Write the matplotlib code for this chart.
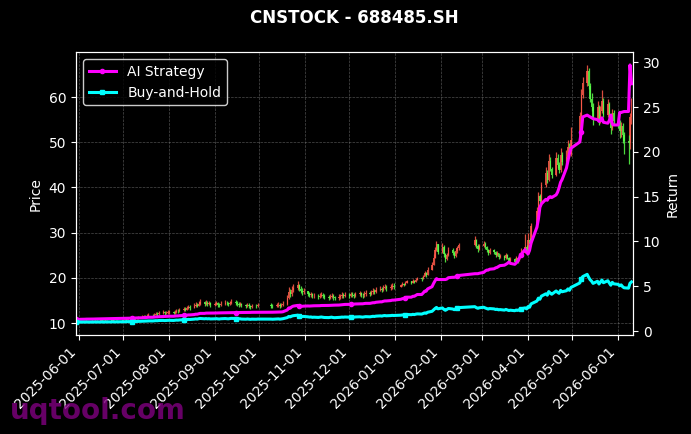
import pandas as pd
import numpy as np
import matplotlib
matplotlib.use('Agg')
import matplotlib.pyplot as plt
import matplotlib.dates as mdates

# trading calendar (SSE holidays removed)
holidays = ['2025-06-02', '2025-10-01', '2025-10-02', '2025-10-03', '2025-10-06',
            '2025-10-07', '2025-10-08', '2026-01-01', '2026-01-02', '2026-02-16',
            '2026-02-17', '2026-02-18', '2026-02-19', '2026-02-20', '2026-02-23',
            '2026-04-06', '2026-05-01', '2026-05-04', '2026-05-05']
dates = pd.bdate_range('2025-05-30', '2026-06-10')
dates = dates[~dates.isin(pd.to_datetime(holidays))]

first_open = 10.35

# closes by month
c_may = [10.40]
c_jun = [10.35, 10.28, 10.40, 10.45, 10.38, 10.50, 10.42, 10.55, 10.48, 10.60, 10.52, 10.45, 10.58, 10.62, 10.55, 10.70, 10.65, 10.60, 10.72, 10.68]
c_jul = [10.75, 10.82, 10.78, 10.90, 10.95, 11.05, 10.98, 11.10, 11.20, 11.35, 11.50, 11.42, 11.60, 11.75, 11.68, 11.90, 12.05, 11.95, 12.20, 12.35, 12.15, 12.30, 12.40]
c_aug = [12.45, 12.30, 12.55, 12.70, 12.60, 12.85, 13.10, 12.95, 13.30, 13.55, 13.40, 13.80, 14.10, 13.85, 14.30, 14.60, 14.20, 14.45, 14.15, 14.35, 14.05]
c_sep = [14.20, 14.40, 14.10, 13.95, 14.25, 14.50, 14.35, 14.15, 14.40, 14.70, 14.55, 14.30, 14.10, 14.25, 13.90, 13.75, 14.00, 13.85, 13.60, 13.80, 13.70, 13.90]
c_oct = [13.85, 13.70, 13.95, 14.10, 13.80, 14.00, 14.30, 15.60, 16.90, 16.40, 17.30, 17.80, 18.40, 17.60, 17.20, 16.80, 17.00]
c_nov = [16.50, 16.20, 16.35, 15.90, 16.10, 15.80, 16.05, 16.30, 16.00, 15.75, 15.60, 15.85, 16.10, 15.70, 15.50, 15.80, 15.95, 16.20, 16.05, 16.30]
c_dec = [16.10, 16.40, 16.25, 16.00, 16.35, 16.55, 16.30, 16.15, 16.45, 16.70, 16.50, 16.80, 17.10, 16.90, 17.30, 17.60, 17.35, 17.80, 18.00, 17.70, 17.95, 18.20, 18.05]
c_jan = [18.40, 18.70, 18.50, 18.90, 19.20, 18.95, 19.40, 19.10, 19.60, 19.90, 19.70, 20.30, 21.00, 20.60, 21.80, 22.90, 24.50, 26.10, 27.40, 25.80]
c_feb = [26.80, 25.20, 24.10, 25.00, 26.20, 25.60, 24.80, 25.90, 26.50, 27.20, 28.30, 27.10, 26.40, 27.00]
c_mar = [27.60, 26.80, 26.20, 25.50, 26.10, 25.70, 25.00, 25.40, 24.60, 24.90, 24.30, 25.10, 24.50, 23.80, 24.20, 23.60, 24.40, 23.90, 24.80, 25.60, 26.90, 25.70]
c_apr = [28.40, 27.60, 31.50, 34.80, 38.20, 36.90, 40.50, 43.20, 41.60, 45.80, 44.10, 42.70, 46.50, 44.90, 43.80, 47.20, 45.60, 46.80, 48.90, 47.30, 50.60]
c_may2 = [55.80, 60.50, 63.20, 65.80, 62.40, 59.60, 57.90, 55.30, 57.80, 54.60, 56.90, 59.20, 56.10, 58.40, 55.70, 53.20, 56.50, 54.80]
c_jun2 = [54.20, 52.50, 53.60, 51.50, 50.20, 49.80, 55.50, 57.00]

# highs by month
h_may = [10.55]
h_jun = [10.50, 10.45, 10.52, 10.58, 10.50, 10.62, 10.56, 10.66, 10.60, 10.72, 10.65, 10.58, 10.70, 10.75, 10.68, 10.82, 10.78, 10.72, 10.85, 10.80]
h_jul = [11.00, 11.10, 11.05, 11.15, 11.25, 11.35, 11.28, 11.40, 11.55, 11.70, 11.90, 11.80, 11.95, 12.15, 12.05, 12.30, 12.50, 12.40, 12.65, 12.85, 12.60, 12.75, 12.90]
h_aug = [12.90, 12.75, 13.00, 13.15, 13.05, 13.30, 13.60, 13.45, 13.80, 14.10, 13.95, 14.35, 14.70, 14.45, 14.90, 15.30, 14.90, 15.05, 14.80, 14.95, 14.70]
h_sep = [14.70, 14.95, 14.65, 14.45, 14.80, 15.10, 14.90, 14.65, 14.95, 15.30, 15.10, 14.85, 14.60, 14.75, 14.40, 14.25, 14.50, 14.35, 14.10, 14.30, 14.20, 14.40]
h_oct = [14.40, 14.25, 14.45, 14.65, 14.35, 14.55, 14.90, 16.20, 17.90, 17.50, 18.20, 18.70, 19.20, 18.60, 18.10, 17.70, 17.80]
h_nov = [17.20, 16.95, 16.90, 16.65, 16.65, 16.40, 16.60, 16.90, 16.65, 16.35, 16.20, 16.40, 16.70, 16.40, 16.10, 16.35, 16.50, 16.80, 16.65, 16.90]
h_dec = [16.70, 16.95, 16.85, 16.60, 16.90, 17.15, 16.90, 16.70, 17.00, 17.30, 17.10, 17.40, 17.75, 17.55, 17.95, 18.30, 18.05, 18.50, 18.75, 18.45, 18.65, 18.90, 18.80]
h_jan = [18.75, 19.05, 18.85, 19.25, 19.55, 19.35, 19.75, 19.50, 19.95, 20.30, 20.10, 20.70, 21.50, 21.20, 22.30, 23.60, 25.30, 26.90, 28.20, 27.60]
h_feb = [27.80, 27.20, 25.50, 25.60, 26.80, 26.60, 25.90, 26.40, 27.10, 27.70, 29.20, 28.70, 27.50, 27.60]
h_mar = [28.20, 27.90, 27.00, 26.40, 26.60, 26.30, 25.90, 25.90, 25.50, 25.30, 25.00, 25.60, 25.30, 24.70, 24.70, 24.30, 24.90, 24.60, 25.40, 26.70, 29.80, 27.30]
h_apr = [29.90, 28.90, 32.20, 35.60, 39.00, 38.60, 41.30, 44.60, 43.80, 47.50, 46.80, 44.60, 47.90, 47.30, 45.60, 48.80, 47.90, 48.20, 50.60, 49.90, 53.40]
h_may2 = [56.60, 61.80, 64.40, 67.10, 66.40, 63.00, 60.80, 58.70, 59.20, 58.30, 58.10, 61.60, 59.80, 59.60, 58.80, 56.40, 57.40, 57.20]
h_jun2 = [55.60, 54.90, 54.50, 54.20, 52.20, 51.60, 56.40, 59.80]

# lows by month
l_may = [10.25]
l_jun = [10.25, 10.20, 10.26, 10.33, 10.28, 10.36, 10.32, 10.40, 10.36, 10.45, 10.40, 10.34, 10.42, 10.50, 10.44, 10.55, 10.52, 10.48, 10.58, 10.55]
l_jul = [10.50, 10.60, 10.55, 10.65, 10.72, 10.80, 10.75, 10.85, 10.95, 11.05, 11.20, 11.15, 11.30, 11.45, 11.40, 11.55, 11.75, 11.65, 11.85, 12.00, 11.85, 11.95, 12.05]
l_aug = [12.10, 11.95, 12.10, 12.30, 12.25, 12.40, 12.65, 12.60, 12.80, 13.10, 13.00, 13.30, 13.60, 13.45, 13.75, 14.10, 13.80, 13.95, 13.75, 13.90, 13.60]
l_sep = [13.70, 13.90, 13.65, 13.50, 13.75, 14.00, 13.90, 13.70, 13.90, 14.20, 14.10, 13.85, 13.65, 13.80, 13.45, 13.30, 13.55, 13.40, 13.15, 13.35, 13.25, 13.45]
l_oct = [13.40, 13.25, 13.45, 13.60, 13.35, 13.55, 13.75, 14.10, 15.30, 15.80, 16.10, 16.90, 17.40, 17.10, 16.70, 16.30, 16.40]
l_nov = [16.10, 15.80, 15.85, 15.45, 15.55, 15.30, 15.45, 15.70, 15.50, 15.25, 15.10, 15.25, 15.50, 15.20, 15.00, 15.20, 15.40, 15.65, 15.55, 15.75]
l_dec = [15.60, 15.75, 15.70, 15.50, 15.70, 15.95, 15.80, 15.65, 15.85, 16.10, 16.00, 16.20, 16.50, 16.40, 16.65, 17.00, 16.85, 17.10, 17.45, 17.20, 17.35, 17.60, 17.55]
l_jan = [18.00, 18.30, 18.20, 18.45, 18.80, 18.65, 18.95, 18.80, 19.15, 19.50, 19.35, 19.80, 20.40, 20.20, 20.70, 21.70, 22.80, 24.40, 25.90, 25.30]
l_feb = [25.40, 24.70, 23.50, 23.90, 24.80, 25.10, 24.30, 24.60, 25.60, 26.20, 27.00, 26.60, 25.80, 26.10]
l_mar = [26.90, 26.40, 25.80, 25.10, 25.30, 25.30, 24.60, 24.80, 24.20, 24.30, 23.90, 24.20, 24.10, 23.40, 23.60, 23.20, 23.50, 23.40, 23.70, 24.60, 25.40, 25.10]
l_apr = [25.40, 27.10, 27.40, 31.00, 34.20, 36.20, 36.60, 40.10, 41.00, 41.40, 43.60, 42.10, 42.50, 44.30, 43.10, 43.50, 45.00, 45.20, 46.50, 46.70, 47.00]
l_may2 = [50.20, 55.10, 59.80, 62.50, 61.70, 58.90, 57.00, 53.80, 54.90, 53.90, 54.20, 56.40, 55.50, 55.60, 55.00, 51.90, 52.80, 53.90]
l_jun2 = [53.20, 51.00, 51.20, 49.80, 47.30, 45.20, 48.50, 54.00]

# AI strategy cumulative return by month
s_may = [1.30]
s_jun = [1.31, 1.31, 1.32, 1.33, 1.33, 1.34, 1.34, 1.35, 1.35, 1.36, 1.36, 1.36, 1.37, 1.38, 1.38, 1.39, 1.39, 1.39, 1.40, 1.40]
s_jul = [1.41, 1.42, 1.42, 1.43, 1.44, 1.45, 1.45, 1.46, 1.47, 1.48, 1.50, 1.50, 1.52, 1.54, 1.54, 1.56, 1.58, 1.58, 1.60, 1.62, 1.62, 1.63, 1.64]
s_aug = [1.65, 1.65, 1.67, 1.69, 1.69, 1.71, 1.74, 1.74, 1.77, 1.80, 1.80, 1.84, 1.88, 1.88, 1.93, 1.97, 1.97, 2.00, 2.00, 2.01, 2.01]
s_sep = [2.01, 2.02, 2.02, 2.02, 2.03, 2.04, 2.04, 2.04, 2.05, 2.06, 2.06, 2.06, 2.06, 2.07, 2.07, 2.07, 2.08, 2.08, 2.08, 2.09, 2.09, 2.10]
s_oct = [2.10, 2.10, 2.11, 2.12, 2.12, 2.13, 2.15, 2.35, 2.58, 2.55, 2.70, 2.78, 2.86, 2.80, 2.78, 2.76, 2.78]
s_nov = [2.80, 2.79, 2.80, 2.80, 2.82, 2.82, 2.83, 2.85, 2.85, 2.85, 2.86, 2.87, 2.89, 2.89, 2.89, 2.90, 2.92, 2.94, 2.95, 2.97]
s_dec = [2.98, 3.00, 3.00, 3.00, 3.02, 3.04, 3.04, 3.04, 3.06, 3.09, 3.09, 3.12, 3.16, 3.16, 3.21, 3.26, 3.26, 3.32, 3.36, 3.36, 3.40, 3.45, 3.45]
s_jan = [3.55, 3.62, 3.62, 3.70, 3.78, 3.78, 3.88, 3.88, 3.98, 4.08, 4.08, 4.25, 4.45, 4.45, 4.70, 4.95, 5.30, 5.60, 5.85, 5.75]
s_feb = [5.75, 5.75, 5.75, 5.80, 5.95, 6.00, 6.00, 6.05, 6.15, 6.20, 6.40, 6.40, 6.40, 6.45]
s_mar = [6.55, 6.70, 6.80, 6.80, 6.90, 6.95, 7.05, 7.10, 7.20, 7.30, 7.35, 7.45, 7.55, 7.70, 7.55, 7.45, 7.60, 7.80, 8.10, 8.50, 9.10, 8.80]
s_apr = [8.60, 9.00, 9.80, 11.60, 12.50, 13.80, 14.20, 14.70, 14.60, 14.90, 15.00, 14.90, 15.20, 15.50, 16.00, 16.60, 16.90, 18.20, 19.00, 19.80, 20.40]
s_may2 = [21.10, 22.20, 23.90, 24.10, 24.00, 23.90, 23.80, 23.70, 23.60, 23.40, 23.50, 23.80, 23.30, 23.20, 23.50, 24.10, 23.10, 23.00]
s_jun2 = [23.00, 24.40, 24.40, 24.45, 24.50, 24.50, 29.70, 27.60]

close = np.array(c_may + c_jun + c_jul + c_aug + c_sep + c_oct + c_nov + c_dec + c_jan + c_feb + c_mar + c_apr + c_may2 + c_jun2)
high = np.array(h_may + h_jun + h_jul + h_aug + h_sep + h_oct + h_nov + h_dec + h_jan + h_feb + h_mar + h_apr + h_may2 + h_jun2)
low = np.array(l_may + l_jun + l_jul + l_aug + l_sep + l_oct + l_nov + l_dec + l_jan + l_feb + l_mar + l_apr + l_may2 + l_jun2)
strategy = np.array(s_may + s_jun + s_jul + s_aug + s_sep + s_oct + s_nov + s_dec + s_jan + s_feb + s_mar + s_apr + s_may2 + s_jun2)
opn = np.concatenate([[first_open], close[:-1]])
buy_hold = close / close[0]

df = pd.DataFrame({'open': opn, 'high': high, 'low': low, 'close': close,
                   'strategy': strategy, 'bh': buy_hold}, index=dates)

# Code starts here
plt.rcParams['font.family'] = 'DejaVu Sans'
fig = plt.figure(figsize=(6.91, 4.34), dpi=100, facecolor='black')
ax = fig.add_axes([0.110, 0.228, 0.806, 0.652])
ax.set_facecolor('black')

up = df['close'] >= df['open']
col = np.where(up, '#ff5a4a', '#5aff4a')
x = mdates.date2num(df.index)
ax.vlines(x, df['low'], df['high'], colors=col, linewidth=0.9, alpha=0.85)
ax.bar(x, (df['close'] - df['open']).abs().clip(lower=0.05), bottom=np.minimum(df['open'], df['close']),
       width=0.9, color=col, alpha=0.85, linewidth=0)

ax.set_ylabel('Price', color='white')
ax.grid(True, color='gray', linestyle='--', linewidth=0.5, alpha=0.6)

ax2 = ax.twinx()
ax2.plot(df.index, df['strategy'], color='magenta', linewidth=2.2, marker='o', markersize=3,
         markevery=25, label='AI Strategy')
ax2.plot(df.index, df['bh'], color='cyan', linewidth=2.2, marker='s', markersize=3,
         markevery=25, label='Buy-and-Hold')
ax2.set_ylabel('Return', color='white')

ax.set_xlim(pd.Timestamp('2025-05-30'), pd.Timestamp('2026-06-11'))
ax.xaxis.set_major_locator(mdates.MonthLocator())
ax.xaxis.set_major_formatter(mdates.DateFormatter('%Y-%m-%d'))
plt.setp(ax.get_xticklabels(), rotation=45, ha='right')

for a in (ax, ax2):
    a.tick_params(colors='white')
    for s in a.spines.values():
        s.set_color('white')

ax.set_title('CNSTOCK - 688485.SH', color='white', fontsize=12, fontweight='bold', pad=21)
leg = ax2.legend(loc='upper left', facecolor='black', edgecolor='white', labelcolor='white', fontsize=10)

fig.text(0.015, 0.035, 'uqtool.com', fontsize=20, fontweight='bold', color='purple', alpha=0.8)

fig.savefig('out.png', dpi=100, facecolor='black')
